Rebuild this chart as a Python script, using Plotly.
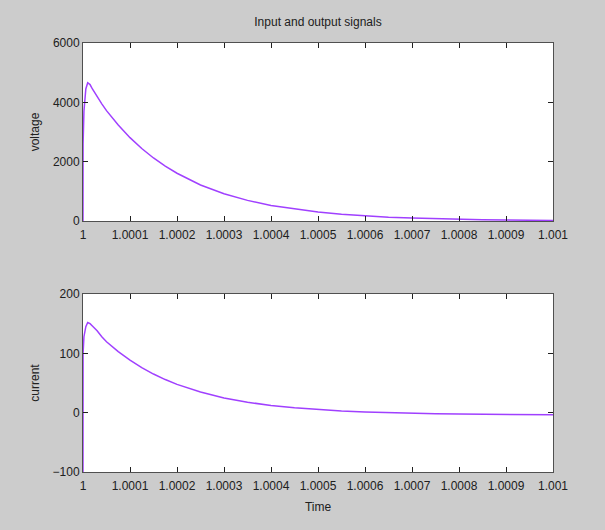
import plotly.graph_objects as go
from plotly.subplots import make_subplots

# time offsets from t=1, in units of 1e-4 s
t_offset = [0, 0.002, 0.02, 0.06, 0.1, 0.15, 0.2, 0.3, 0.4, 0.5, 0.75, 1.0, 1.25, 1.5,
            1.75, 2.0, 2.5, 3.0, 3.5, 4.0, 4.5, 5.0, 5.5, 6.0, 6.5, 7.0, 7.5, 8.0,
            8.5, 9.0, 9.5, 10.0]
voltage = [0, 2600, 3700, 4450, 4660, 4600, 4450, 4180, 3950, 3720, 3235, 2810, 2445,
           2125, 1850, 1610, 1215, 920, 695, 525, 400, 300, 230, 170, 130, 100, 75,
           55, 43, 32, 24, 18]
current = [-100, 100, 128, 145, 152, 150, 146, 138, 128, 119.6, 102.9, 88.5, 75.9,
           65.1, 55.8, 47.6, 34.7, 24.8, 17.6, 12.1, 8.1, 5.0, 2.75, 1.05, -0.2,
           -1.2, -1.9, -2.4, -2.8, -3.1, -3.3, -3.5]

x_tickvals = [1.0, 1.0001, 1.0002, 1.0003, 1.0004, 1.0005, 1.0006, 1.0007, 1.0008, 1.0009, 1.001]
x_ticktext = ["1", "1.0001", "1.0002", "1.0003", "1.0004", "1.0005", "1.0006",
              "1.0007", "1.0008", "1.0009", "1.001"]
v_ticks = [0, 2000, 4000, 6000]
i_ticks = [-100, 0, 100, 200]

time = [1.0 + dt * 1e-4 for dt in t_offset]

LINE = "#a040ff"
AX = "#505050"
FONT = "Liberation Sans, Arial, sans-serif"

fig = make_subplots(rows=2, cols=1, vertical_spacing=0.17)
fig.add_trace(go.Scatter(x=time, y=voltage, mode="lines",
                         line=dict(color=LINE, width=1.5), showlegend=False), row=1, col=1)
fig.add_trace(go.Scatter(x=time, y=current, mode="lines",
                         line=dict(color=LINE, width=1.5), showlegend=False), row=2, col=1)

common_x = dict(range=[1.0, 1.001], tickvals=x_tickvals, ticktext=x_ticktext,
                ticks="inside", ticklen=5, tickcolor="#202020", showline=True,
                linecolor=AX, linewidth=1, mirror="ticks", showgrid=False,
                zeroline=False, ticklabelstandoff=3, tickfont=dict(size=12, color="#202020"))
common_y = dict(ticks="inside", ticklen=5, tickcolor="#202020", showline=True,
                linecolor=AX, linewidth=1, mirror="ticks", showgrid=False,
                zeroline=False, tickfont=dict(size=12, color="#202020"))

fig.update_xaxes(**common_x, row=1, col=1)
fig.update_xaxes(**common_x, row=2, col=1,
                 title=dict(text="Time", font=dict(size=12, color="#202020"), standoff=10))
fig.update_yaxes(**common_y, range=[0, 6000], tickvals=v_ticks, row=1, col=1,
                 title=dict(text="voltage", font=dict(size=12, color="#202020"), standoff=10))
fig.update_yaxes(**common_y, range=[-100, 200], tickvals=i_ticks, row=2, col=1,
                 title=dict(text="current", font=dict(size=12, color="#202020"), standoff=10))

fig.update_layout(
    width=605, height=530,
    margin=dict(l=83, r=52, t=43, b=58),
    paper_bgcolor="#cccccc", plot_bgcolor="white",
    font=dict(family=FONT, size=12, color="#202020"),
    title=dict(text="Input and output signals", x=(83 + 553) / 2 / 605, xanchor="center",
               y=1 - 22 / 530, yanchor="middle", font=dict(size=12, color="#202020")),
)
fig.layout.yaxis.domain = [(472 - 221) / 429, 1.0]
fig.layout.yaxis2.domain = [0.0, (472 - 294) / 429]

fig.write_html("out.html", config={"displayModeBar": False},
               post_script="document.body.style.margin='0';"
                           "document.body.style.background='#cccccc';")
